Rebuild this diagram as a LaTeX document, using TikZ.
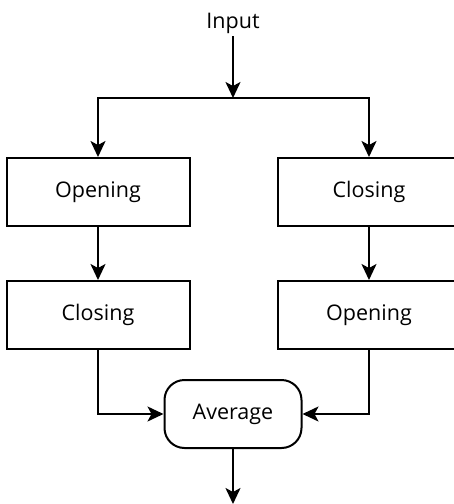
\documentclass[tikz,border=0pt]{standalone}
\usepackage{fontspec}
\setmainfont{Open Sans}
\usetikzlibrary{arrows.meta}

\tikzset{
  box/.style={draw, line width=2pt, minimum width=183pt, minimum height=68pt},
  avgbox/.style={draw, line width=2pt, rounded corners=20pt, minimum width=137pt, minimum height=68pt},
  flow/.style={line width=2pt, -{Stealth[length=16pt, width=15pt, inset=4pt]}}
}

\begin{document}
\begin{tikzpicture}[x=1pt, y=-1pt, font=\fontsize{21.5}{26}\selectfont]
  \useasboundingbox (0,0) rectangle (454,504);

  \node[inner sep=3pt] (input) at (233,23) {Input};
  \coordinate (split) at (233,98);
  \node[box] (leftA) at (98,192) {Opening};
  \node[box] (rightA) at (369,192) {Closing};
  \node[box] (leftB) at (98,315) {Closing};
  \node[box] (rightB) at (369,315) {Opening};
  \node[avgbox] (average) at (233,414) {Average};
  \coordinate (output) at (233,504);

  \draw[flow] (input) -- (split);
  \draw[flow] (split) -| (leftA);
  \draw[flow] (split) -| (rightA);
  \draw[flow] (leftA) -- (leftB);
  \draw[flow] (rightA) -- (rightB);
  \draw[flow] (leftB) |- (average);
  \draw[flow] (rightB) |- (average);
  \draw[flow] (average) -- (output);
\end{tikzpicture}
\end{document}
